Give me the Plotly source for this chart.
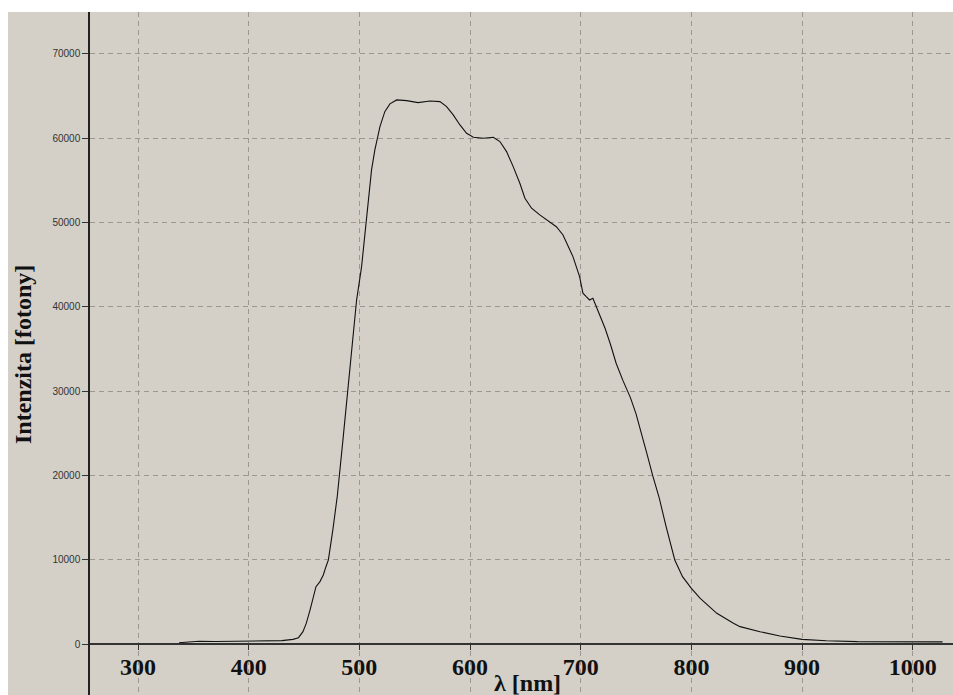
import plotly.graph_objects as go

# Spectrum
wavelength_nm = [337, 345, 355, 370, 390, 410, 430, 440, 445, 449, 452, 455.4,
                 458.4, 460.8, 464.4, 467.4, 469.8, 472, 476, 480, 485, 490,
                 494, 497.5, 502, 506.6, 511, 514, 518.6, 523, 527.6, 533.7,
                 542.7, 553, 563.8, 572.8, 578.8, 584.8, 590.9, 596.9, 603,
                 612, 621, 627, 633, 639, 645, 649.6, 655.6, 663, 672, 678,
                 684, 693, 699, 702, 705, 708, 711, 714, 719, 722, 727, 732,
                 738, 745, 750, 755, 760, 765, 771, 777, 785, 792, 800, 808,
                 823, 838, 844, 862, 880, 900, 922, 950, 980, 1000, 1027]
intensity = [150, 200, 330, 300, 320, 330, 400, 550, 750, 1460, 2450, 4030,
             5610, 6800, 7400, 8190, 9170, 9970, 13500, 17500, 24000, 31000,
             36500, 40800, 44760, 51100, 56240, 58610, 61370, 63150, 64070,
             64540, 64460, 64220, 64420, 64340, 63750, 62760, 61570, 60590,
             60110, 59990, 60110, 59600, 58410, 56630, 54650, 52880, 51690,
             50900, 50100, 49500, 48520, 45950, 43580, 41610, 41200, 40810,
             41000, 40020, 38440, 37450, 35500, 33300, 31300, 29200, 27300,
             25000, 22500, 20000, 17300, 14000, 9970, 7990, 6600, 5420, 3640,
             2450, 2060, 1460, 950, 550, 380, 280, 260, 250, 250]

x_ticks = [300, 400, 500, 600, 700, 800, 900, 1000]
y_ticks = [0, 10000, 20000, 30000, 40000, 50000, 60000, 70000]

BG = "#D4D0C8"
GRID = "#9C988F"

fig = go.Figure()
fig.add_trace(go.Scatter(x=wavelength_nm, y=intensity, mode="lines",
                         line=dict(color="#111111", width=1.1),
                         hoverinfo="skip", showlegend=False))

W, H = 953, 695
L, T = 90, 12
pw, ph = W - L, H - T

fig.update_layout(
    width=W, height=H,
    margin=dict(l=L, r=0, t=T, b=0, pad=0),
    paper_bgcolor="white",
    plot_bgcolor=BG,
    showlegend=False,
    xaxis=dict(
        range=[256.6, 1036.4],
        tickvals=x_ticks, ticktext=[str(v) for v in x_ticks],
        showgrid=True, gridcolor=GRID, gridwidth=1, griddash="5px,4px",
        zeroline=False,
        showline=True, linecolor="#333333", linewidth=1.5,
        ticks="outside", ticklen=5, tickcolor="#333333", tickwidth=1,
        ticklabelstandoff=-4,
        tickfont=dict(family="Liberation Serif", size=24, color="#111111",
                      weight="bold"),
        anchor="free", position=(H - 644) / ph,
        fixedrange=True,
    ),
    yaxis=dict(
        range=[-6050, 74970],
        tickvals=y_ticks, ticktext=[str(v) for v in y_ticks],
        showgrid=True, gridcolor=GRID, gridwidth=1, griddash="5px,4px",
        zeroline=False,
        showline=True, linecolor="#222222", linewidth=1.5,
        ticks="outside", ticklen=6, tickcolor="#333333", tickwidth=1,
        tickfont=dict(family="Liberation Sans", size=10, color="#333333"),
        fixedrange=True,
    ),
    shapes=[
        # grey panel extending under the y tick labels
        dict(type="rect", xref="paper", yref="paper",
             x0=-(L - 8) / pw, x1=1, y0=0, y1=1,
             fillcolor=BG, line=dict(width=0), layer="below"),
    ],
    annotations=[
        dict(text="λ [nm]", xref="paper", yref="paper",
             x=(527 - L) / pw, y=(H - 683) / ph, xanchor="center",
             yanchor="middle", showarrow=False,
             font=dict(family="Liberation Serif", size=24, color="#111111",
                       weight="bold")),
        dict(text="Intenzita [fotony]", xref="paper", yref="paper",
             x=(23 - L) / pw, y=(H - 355) / ph, xanchor="center",
             yanchor="middle", textangle=-90, showarrow=False,
             font=dict(family="Liberation Serif", size=24, color="#111111",
                       weight="bold")),
    ],
)

fig.write_html("out.html")
